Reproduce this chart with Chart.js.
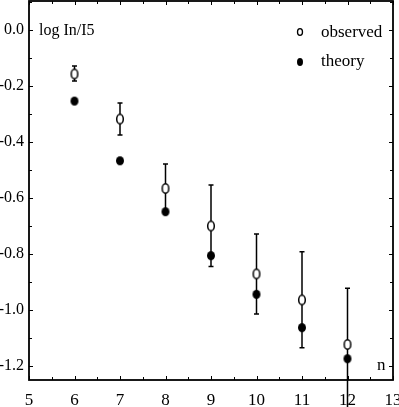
<!DOCTYPE html>
<html><head><meta charset="utf-8">
<script src="https://cdn.jsdelivr.net/npm/chart.js@4/dist/chart.umd.min.js"></script>
<style>html,body{margin:0;padding:0;background:#fff}#wrap{width:399px;height:407px}</style>
</head><body><div id="wrap"><canvas id="c"></canvas></div>
<script>
const nValues = [6, 7, 8, 9, 10, 11, 12];
const observed = [-0.157, -0.318, -0.566, -0.700, -0.871, -0.964, -1.123];
const errHigh = [-0.129, -0.261, -0.479, -0.554, -0.729, -0.792, -0.922];
const errLow = [-0.182, -0.375, -0.653, -0.845, -1.014, -1.135, -1.35];
const theory = [-0.254, -0.467, -0.649, -0.806, -0.944, -1.063, -1.174];
const xTicks = [5, 6, 7, 8, 9, 10, 11, 12, 13];
const yTicks = [0.0, -0.2, -0.4, -0.6, -0.8, -1.0, -1.2];
const seriesLabels = ['observed', 'theory'];
const yTitle = 'log In/I5';
const xTitle = 'n';
const yFrameTop = 0.105;

const FONT = '"Liberation Serif", "Times New Roman", serif';

function ellipseSprite(w, h, filled) {
  const c = document.createElement('canvas');
  c.width = w + 2; c.height = h + 2;
  const g = c.getContext('2d');
  g.beginPath();
  g.ellipse((w + 2) / 2, (h + 2) / 2, w / 2 - (filled ? 0 : 0.7), h / 2 - (filled ? 0 : 0.7), 0, 0, Math.PI * 2);
  if (filled) { g.fillStyle = '#000'; g.fill(); }
  else { g.fillStyle = '#fff'; g.fill(); g.strokeStyle = '#000'; g.lineWidth = 1.5; g.stroke(); }
  return c;
}
const openMark = ellipseSprite(8, 11, false);
const fullMark = ellipseSprite(8, 9, true);

const deco = {
  id: 'deco',
  beforeDatasetsDraw(chart) {
    const ctx = chart.ctx, xs = chart.scales.x, ys = chart.scales.y;
    ctx.save();
    ctx.strokeStyle = '#000';
    ctx.lineWidth = 1.5;
    nValues.forEach((n, i) => {
      const px = xs.getPixelForValue(n);
      const top = ys.getPixelForValue(errHigh[i]);
      const bot = ys.getPixelForValue(errLow[i]);
      ctx.beginPath();
      ctx.moveTo(px, top); ctx.lineTo(px, bot);
      ctx.moveTo(px - 2.5, top); ctx.lineTo(px + 2.5, top);
      if (bot <= chart.chartArea.bottom) { ctx.moveTo(px - 2.5, bot); ctx.lineTo(px + 2.5, bot); }
      ctx.stroke();
    });
    ctx.restore();
  },
  afterDraw(chart) {
    const ctx = chart.ctx, xs = chart.scales.x, ys = chart.scales.y, a = chart.chartArea;
    const fTop = Math.max(1, ys.getPixelForValue(yFrameTop));
    ctx.save();
    ctx.strokeStyle = '#000';
    ctx.lineWidth = 1.8;
    ctx.strokeRect(a.left, fTop, a.right - a.left, a.bottom - fTop);
    ctx.lineWidth = 1;
    ctx.beginPath();
    for (let v = 5; v <= 13.001; v += 0.5) {
      const px = Math.round(xs.getPixelForValue(v)) + 0.5;
      const major = Math.abs(v - Math.round(v)) < 1e-6;
      const L = major ? 4 : 3;
      ctx.moveTo(px, a.bottom); ctx.lineTo(px, a.bottom - L);
      ctx.moveTo(px, fTop); ctx.lineTo(px, fTop + L);
    }
    for (let v = -1.2; v <= 0.1001; v += 0.1) {
      const py = Math.round(ys.getPixelForValue(v)) + 0.5;
      const major = Math.abs(Math.round(v * 10) % 2) === 0;
      const L = major ? 4 : 3;
      ctx.moveTo(a.left, py); ctx.lineTo(a.left + L, py);
      ctx.moveTo(a.right, py); ctx.lineTo(a.right - L, py);
    }
    ctx.stroke();
    // titles
    ctx.fillStyle = '#000';
    ctx.font = '16px ' + FONT;
    ctx.textBaseline = 'middle';
    ctx.textAlign = 'left';
    ctx.fillText(yTitle, 39, 31);
    ctx.font = '17px ' + FONT;
    ctx.fillText(xTitle, 377, 366);
    // legend
    ctx.font = '17px ' + FONT;
    ctx.lineWidth = 1.3;
    ctx.beginPath(); ctx.ellipse(300, 32, 2.5, 3.3, 0, 0, Math.PI * 2); ctx.stroke();
    ctx.beginPath(); ctx.ellipse(300, 62, 3, 4, 0, 0, Math.PI * 2); ctx.fill();
    ctx.fillText(seriesLabels[0], 321, 33);
    ctx.fillText(seriesLabels[1], 321, 62);
    ctx.restore();
  }
};

new Chart(document.getElementById('c'), {
  type: 'scatter',
  data: {
    datasets: [
      { label: seriesLabels[0], data: nValues.map((n, i) => ({ x: n, y: observed[i] })),
        pointStyle: openMark, pointRadius: 5 },
      { label: seriesLabels[1], data: nValues.map((n, i) => ({ x: n, y: theory[i] })),
        pointStyle: fullMark, pointRadius: 5 }
    ]
  },
  options: {
    responsive: true, maintainAspectRatio: false, animation: false,
    layout: { padding: { top: 1, right: 6, left: 0, bottom: 0 } },
    plugins: { legend: { display: false }, tooltip: { enabled: false } },
    scales: {
      x: {
        type: 'linear', min: 5, max: 13,
        afterBuildTicks: s => { s.ticks = xTicks.map(v => ({ value: v })); },
        afterFit: s => { s.height = 27; s.paddingLeft = 0; s.paddingRight = 0; },
        grid: { display: false, drawTicks: false },
        border: { display: false },
        ticks: { color: '#000', font: { family: FONT, size: 17 }, padding: 10, maxRotation: 0, callback: v => String(v) }
      },
      y: {
        type: 'linear', min: -1.25, max: 0.0857,
        afterBuildTicks: s => { s.ticks = yTicks.map(v => ({ value: v })); },
        afterFit: s => { s.width = 29; s.paddingTop = 0; s.paddingBottom = 0; },
        grid: { display: false, drawTicks: false },
        border: { display: false },
        ticks: { color: '#000', font: { family: FONT, size: 16 }, padding: 5, callback: v => Number(v).toFixed(1) }
      }
    }
  },
  plugins: [deco]
});
</script></body></html>
